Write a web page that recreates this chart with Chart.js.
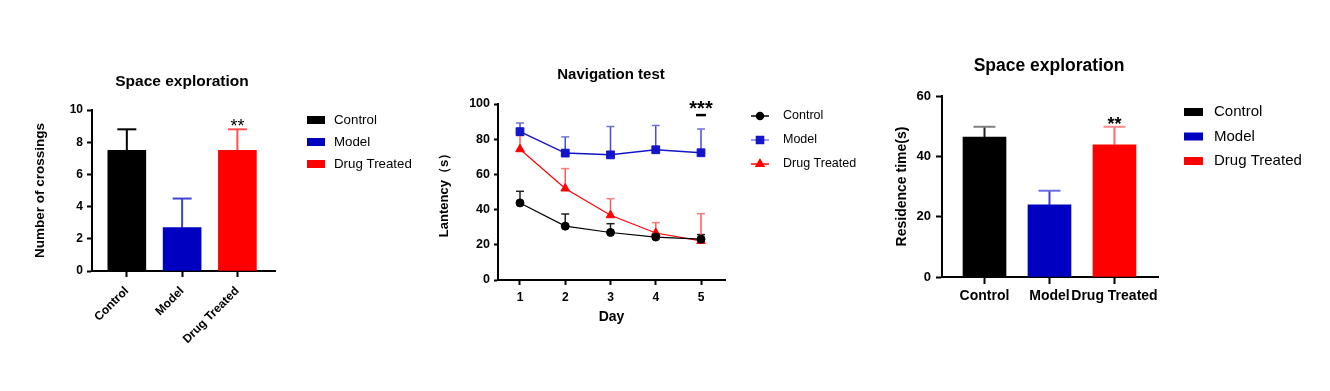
<!DOCTYPE html>
<html>
<head>
<meta charset="utf-8">
<script src="https://cdn.jsdelivr.net/npm/chart.js@4.4.1/dist/chart.umd.min.js"></script>
<style>
  html, body { margin: 0; padding: 0; background: #fff; }
  #wrap { position: relative; width: 1330px; height: 391px; overflow: hidden; }
  canvas { position: absolute; top: 0; }
</style>
</head>
<body>
<div id="wrap">
  <canvas id="crossChart" width="430" height="391" style="left:0px"></canvas>
  <canvas id="navChart" width="450" height="391" style="left:430px"></canvas>
  <canvas id="timeChart" width="450" height="391" style="left:880px"></canvas>
</div>
<script>
// groups shared by all three panels
const groups = ["Control", "Model", "Drug Treated"];
const groupColors = ["#000000", "#0000c0", "#ff0000"];
const errorColors = ["#000000", "#4040d4", "#ff5050"];

// panel 1: number of crossings (mean, mean + error)
const crossingMean = [7.5, 2.7, 7.5];
const crossingUpper = [8.8, 4.5, 8.8];
const crossingTicks = [0, 2, 4, 6, 8, 10];

// panel 2: latency per day
const days = [1, 2, 3, 4, 5];
const controlLatency = [43.8, 30.6, 27.0, 24.4, 23.2];
const controlLatencyUpper = [50.4, 37.5, 32.0, 26.0, 25.8];
const modelLatency = [84.3, 72.1, 71.1, 74.0, 72.3];
const modelLatencyUpper = [89.2, 81.3, 87.2, 87.8, 85.8];
const drugLatency = [74.3, 52.0, 36.8, 26.7, 22.2];
const drugLatencyUpper = [82.0, 63.3, 46.2, 32.6, 37.7];
const latencyTicks = [0, 20, 40, 60, 80, 100];

// panel 3: residence time
const residenceMean = [46.4, 23.9, 43.8];
const residenceUpper = [49.8, 28.6, 49.8];
const residenceTicks = [0, 20, 40, 60];

const FONT = "'Liberation Sans', Arial, sans-serif";
Chart.defaults.font.family = FONT;
Chart.defaults.color = "#000";

// Axis line + outward tick marks, no grid
function axisLook(tickLength) {
  return {
    grid: { offset: false, drawOnChartArea: false, drawTicks: true, tickLength: tickLength, tickColor: "#000", tickWidth: 2, color: "#000" },
    border: { display: true, color: "#000", width: 2 }
  };
}

// Upper-only error bars, read from dataset.upper
const errorBars = {
  id: "errorBars",
  beforeDatasetsDraw(chart) {
    const ctx = chart.ctx;
    const yScale = chart.scales.y;
    chart.data.datasets.forEach((ds, di) => {
      if (!ds.upper) return;
      chart.getDatasetMeta(di).data.forEach((el, i) => {
        const color = Array.isArray(ds.errorColor) ? ds.errorColor[i] : ds.errorColor;
        const capColor = ds.capColor ? (Array.isArray(ds.capColor) ? ds.capColor[i] : ds.capColor) : color;
        const yTop = yScale.getPixelForValue(ds.upper[i]);
        const yMid = yScale.getPixelForValue(ds.data[i].y);
        ctx.save();
        ctx.lineWidth = ds.errorWidth;
        ctx.strokeStyle = color;
        ctx.beginPath();
        ctx.moveTo(el.x, yMid);
        ctx.lineTo(el.x, yTop);
        ctx.stroke();
        ctx.strokeStyle = capColor;
        ctx.beginPath();
        ctx.moveTo(el.x - ds.capWidth / 2, yTop);
        ctx.lineTo(el.x + ds.capWidth / 2, yTop);
        ctx.stroke();
        ctx.restore();
      });
    });
  }
};

// Title + significance marks
function panelText(title, size, cx, cy, extra) {
  return {
    id: "panelText",
    afterDraw(chart) {
      const ctx = chart.ctx;
      ctx.save();
      ctx.fillStyle = "#000";
      ctx.font = "bold " + size + "px " + FONT;
      ctx.textAlign = "center";
      ctx.textBaseline = "middle";
      ctx.fillText(title, cx, cy);
      if (extra) extra(chart, ctx);
      ctx.restore();
    }
  };
}

// Legend drawn beside the plot
function sideLegend(opts) {
  return {
    id: "sideLegend",
    afterDraw(chart) {
      const ctx = chart.ctx;
      ctx.save();
      ctx.font = opts.fontSize + "px " + FONT;
      ctx.textBaseline = "middle";
      ctx.textAlign = "left";
      groups.forEach((g, i) => {
        const y = opts.y0 + i * opts.step;
        if (opts.kind === "box") {
          ctx.fillStyle = groupColors[i];
          ctx.fillRect(opts.x, y - opts.boxH / 2, opts.boxW, opts.boxH);
        } else {
          const ds = chart.data.datasets[i];
          ctx.strokeStyle = ds.legendLine;
          ctx.lineWidth = 1.5;
          ctx.beginPath();
          ctx.moveTo(opts.x, y);
          ctx.lineTo(opts.x + opts.boxW, y);
          ctx.stroke();
          ctx.fillStyle = ds.backgroundColor;
          ctx.strokeStyle = ds.borderColor;
          Chart.helpers.drawPoint(ctx, { pointStyle: ds.pointStyle, radius: ds.pointRadius - 0.5, borderWidth: 1, rotation: 0 }, opts.x + opts.boxW / 2, y);
          ctx.fill();
        }
        ctx.fillStyle = "#000";
        ctx.fillText(g, opts.textX, y);
      });
      ctx.restore();
    }
  };
}

function stars(ctx, text, x, y, font) {
  ctx.font = font;
  ctx.textAlign = "center";
  ctx.textBaseline = "alphabetic";
  ctx.fillText(text, x, y);
}

// ---------- Panel 1 ----------
new Chart(document.getElementById("crossChart"), {
  type: "bar",
  data: {
    datasets: [{
      data: crossingMean.map((v, i) => ({ x: i + 1, y: v })),
      backgroundColor: groupColors,
      barThickness: 38,
      upper: crossingUpper,
      errorColor: errorColors,
      errorWidth: 2,
      capWidth: 19
    }]
  },
  options: {
    responsive: false,
    animation: false,
    layout: { padding: { left: 28, right: 155, top: 110, bottom: 40 } },
    plugins: { legend: { display: false }, tooltip: { enabled: false } },
    scales: {
      x: Object.assign(axisLook(6), {
        type: "linear", min: 0.37, max: 3.68, offset: false,
        afterBuildTicks: s => { s.ticks = groups.map((g, i) => ({ value: i + 1 })); },
        afterFit: s => { s.height = 80; },
        ticks: { callback: v => groups[v - 1], autoSkip: false, minRotation: 45, maxRotation: 45, padding: 7, font: { size: 12, weight: "bold" } }
      }),
      y: Object.assign(axisLook(5), {
        min: 0, max: 10,
        afterBuildTicks: s => { s.ticks = crossingTicks.map(v => ({ value: v })); },
        afterFit: s => { s.width = 64; },
        ticks: { padding: 4, font: { size: 12, weight: "bold" } },
        title: { display: true, text: "Number of crossings", font: { size: 13.5, weight: "bold" } }
      })
    }
  },
  plugins: [
    errorBars,
    panelText("Space exploration", 15.5, 182, 82, (chart, ctx) => {
      stars(ctx, "**", chart.scales.x.getPixelForValue(3), chart.scales.y.getPixelForValue(crossingUpper[2]) + 3, "18px " + FONT);
    }),
    sideLegend({ kind: "box", x: 307, boxW: 18, boxH: 8, textX: 334, y0: 120, step: 22, fontSize: 13.3 })
  ]
});

// ---------- Panel 2 ----------
new Chart(document.getElementById("navChart"), {
  type: "line",
  data: {
    datasets: [
      {
        label: groups[0],
        data: days.map((d, i) => ({ x: d, y: controlLatency[i] })),
        borderColor: "#000000", backgroundColor: "#000000", borderWidth: 1.2,
        pointStyle: "circle", pointRadius: 4, pointBorderWidth: 1,
        upper: controlLatencyUpper, errorColor: "#202020", errorWidth: 1.5, capWidth: 8,
        legendLine: "#000000"
      },
      {
        label: groups[1],
        data: days.map((d, i) => ({ x: d, y: modelLatency[i] })),
        borderColor: "#1414c8", backgroundColor: "#1414c8", borderWidth: 1.5,
        pointStyle: "rect", pointRadius: 5.5, pointBorderWidth: 1,
        upper: modelLatencyUpper, errorColor: "#4a4ad6", capColor: "#7070e0", errorWidth: 1.5, capWidth: 8,
        legendLine: "#7a7ae0"
      },
      {
        label: groups[2],
        data: days.map((d, i) => ({ x: d, y: drugLatency[i] })),
        borderColor: "#ff0000", backgroundColor: "#ff0000", borderWidth: 1.2,
        pointStyle: "triangle", pointRadius: 5, pointBorderWidth: 1,
        upper: drugLatencyUpper, errorColor: "#ff5a5a", capColor: "#ff7a7a", errorWidth: 1.5, capWidth: 8,
        legendLine: "#ff0000"
      }
    ]
  },
  options: {
    responsive: false,
    animation: false,
    layout: { padding: { left: 3, right: 155, top: 104, bottom: 61 } },
    plugins: { legend: { display: false }, tooltip: { enabled: false } },
    scales: {
      x: Object.assign(axisLook(5), {
        type: "linear", min: 0.514, max: 5.53,
        afterBuildTicks: s => { s.ticks = days.map(d => ({ value: d })); },
        afterFit: s => { s.height = 50; },
        ticks: { autoSkip: false, maxRotation: 0, padding: 5, font: { size: 12, weight: "bold" } },
        title: { display: true, text: "Day", font: { size: 14, weight: "bold" } }
      }),
      y: Object.assign(axisLook(4), {
        min: 0, max: 100,
        afterBuildTicks: s => { s.ticks = latencyTicks.map(v => ({ value: v })); },
        afterFit: s => { s.width = 65; },
        ticks: { padding: 4, font: { size: 12.5, weight: "bold" } },
        title: { display: true, text: "Lantency（s）", font: { size: 13, weight: "bold" } }
      })
    }
  },
  plugins: [
    errorBars,
    panelText("Navigation test", 15, 181, 75, (chart, ctx) => {
      const x = chart.scales.x.getPixelForValue(days[4]);
      const y = chart.scales.y.getPixelForValue(93.7);
      ctx.strokeStyle = "#000";
      ctx.lineWidth = 2.5;
      ctx.beginPath();
      ctx.moveTo(x - 5, y);
      ctx.lineTo(x + 5, y);
      ctx.stroke();
      stars(ctx, "***", x, y - 0.5, "bold 20px " + FONT);
    }),
    sideLegend({ kind: "line", x: 321, boxW: 18, textX: 353, y0: 116, step: 24, fontSize: 12.5 })
  ]
});

// ---------- Panel 3 ----------
new Chart(document.getElementById("timeChart"), {
  type: "bar",
  data: {
    datasets: [{
      data: residenceMean.map((v, i) => ({ x: i + 1, y: v })),
      backgroundColor: groupColors,
      barThickness: 43,
      upper: residenceUpper,
      errorColor: ["#202020", "#3c3cd0", "#ff6a6a"],
      capColor: ["#808080", "#6c6ce0", "#ff8c8c"],
      errorWidth: 2,
      capWidth: 22
    }]
  },
  options: {
    responsive: false,
    animation: false,
    layout: { padding: { left: 10, right: 172, top: 96, bottom: 74 } },
    plugins: { legend: { display: false }, tooltip: { enabled: false } },
    scales: {
      x: Object.assign(axisLook(7), {
        type: "linear", min: 0.346, max: 3.67, offset: false,
        afterBuildTicks: s => { s.ticks = groups.map((g, i) => ({ value: i + 1 })); },
        afterFit: s => { s.height = 40; },
        ticks: { callback: v => groups[v - 1], autoSkip: false, minRotation: 0, maxRotation: 0, padding: 4, font: { size: 14, weight: "bold" } }
      }),
      y: Object.assign(axisLook(6), {
        min: 0, max: 60,
        afterBuildTicks: s => { s.ticks = residenceTicks.map(v => ({ value: v })); },
        afterFit: s => { s.width = 52; },
        ticks: { padding: 5, font: { size: 13, weight: "bold" } },
        title: { display: true, text: "Residence time(s)", font: { size: 14, weight: "bold" } }
      })
    }
  },
  plugins: [
    errorBars,
    panelText("Space exploration", 17.5, 169, 66, (chart, ctx) => {
      stars(ctx, "**", chart.scales.x.getPixelForValue(3), chart.scales.y.getPixelForValue(residenceUpper[2]) + 3, "bold 18px " + FONT);
    }),
    sideLegend({ kind: "box", x: 304, boxW: 19, boxH: 8, textX: 334, y0: 112, step: 24.5, fontSize: 15 })
  ]
});
</script>
</body>
</html>
